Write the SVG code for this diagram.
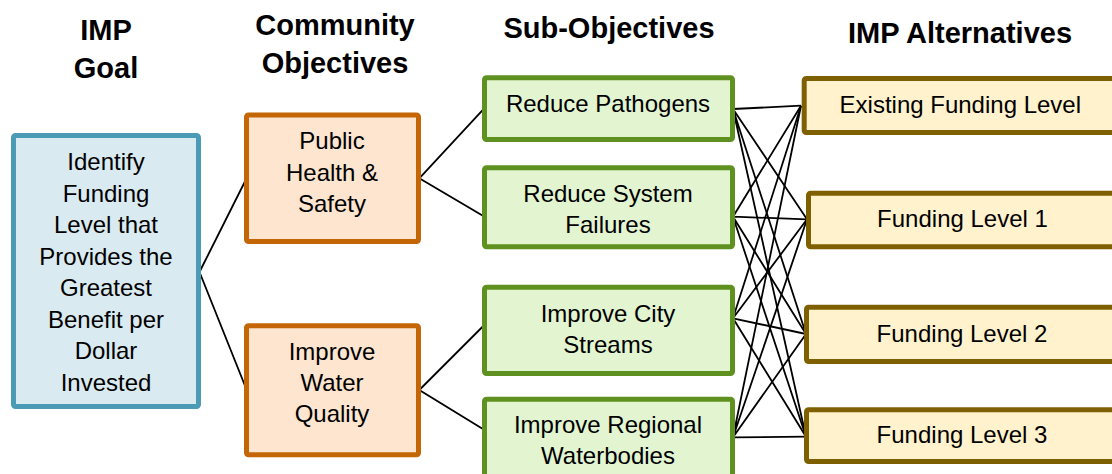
<svg xmlns="http://www.w3.org/2000/svg" width="1112" height="474" viewBox="0 0 1112 474">
<style>
text{font-family:"Liberation Sans",Arial,Helvetica,sans-serif;fill:#000;text-anchor:middle}
.h{font-weight:bold;font-size:29px}
.t{font-size:24px}
.goal{fill:#daeaf1;stroke:#4b9ab6;stroke-width:5}
.comm{fill:#fde5cf;stroke:#c46506;stroke-width:5}
.sub{fill:#e2f4d0;stroke:#5e9120;stroke-width:5}
.alt{fill:#fff2cc;stroke:#7f6000;stroke-width:5}
.c{stroke:#000;stroke-width:1.8;fill:none}
</style>
<g id="headers">
<text class="h" x="106" y="40">IMP</text>
<text class="h" x="106" y="78">Goal</text>
<text class="h" x="335" y="35">Community</text>
<text class="h" x="335" y="73">Objectives</text>
<text class="h" x="609" y="38">Sub-Objectives</text>
<text class="h" x="960" y="43">IMP Alternatives</text>
</g>
<g id="connectors">
<path class="c" d="M199.5,272 L246.7,178 M199.5,272 L246.7,390"/>
<path class="c" d="M419.3,178.3 L483.3,109.3 M419.3,178.3 L483.3,216"/>
<path class="c" d="M419.3,390 L483.3,326 M419.3,390 L483.3,429.3"/>
<path class="c" d="M733,109 L801,105.7 M733,109 L807,219.3 M733,109 L806,334 M733,109 L806,436.7"/>
<path class="c" d="M733,216.7 L801,105.7 M733,216.7 L807,219.3 M733,216.7 L806,334 M733,216.7 L806,436.7"/>
<path class="c" d="M733,318.3 L801,105.7 M733,318.3 L807,219.3 M733,318.3 L806,334 M733,318.3 L806,436.7"/>
<path class="c" d="M733,437.3 L801,105.7 M733,437.3 L807,219.3 M733,437.3 L806,334 M733,437.3 L806,436.7"/>
</g>
<g id="goal">
<rect class="goal" x="13.5" y="135.5" width="185" height="271" rx="2"/>
<text class="t" x="106" y="170">Identify</text>
<text class="t" x="106" y="201.5">Funding</text>
<text class="t" x="106" y="233">Level that</text>
<text class="t" x="106" y="264.5">Provides the</text>
<text class="t" x="106" y="296">Greatest</text>
<text class="t" x="106" y="327.5">Benefit per</text>
<text class="t" x="106" y="359">Dollar</text>
<text class="t" x="106" y="390.5">Invested</text>
</g>
<g id="public-health">
<rect class="comm" x="246.5" y="115" width="172" height="126.5" rx="2"/>
<text class="t" x="332" y="148.5">Public</text>
<text class="t" x="332" y="180.5">Health &amp;</text>
<text class="t" x="332" y="212">Safety</text>
</g>
<g id="water-quality">
<rect class="comm" x="246.5" y="325.8" width="172" height="129" rx="2"/>
<text class="t" x="332" y="359.5">Improve</text>
<text class="t" x="332" y="391">Water</text>
<text class="t" x="332" y="422">Quality</text>
</g>
<g id="pathogens">
<rect class="sub" x="484.5" y="77.8" width="248" height="61.7" rx="2"/>
<text class="t" x="608" y="111.7">Reduce Pathogens</text>
</g>
<g id="failures">
<rect class="sub" x="484.5" y="167.8" width="248" height="79" rx="2"/>
<text class="t" x="608" y="201.7">Reduce System</text>
<text class="t" x="608" y="233.3">Failures</text>
</g>
<g id="streams">
<rect class="sub" x="484.5" y="287.2" width="248" height="86.3" rx="2"/>
<text class="t" x="608" y="321.7">Improve City</text>
<text class="t" x="608" y="352.7">Streams</text>
</g>
<g id="regional">
<rect class="sub" x="484.5" y="399.2" width="248" height="90" rx="2"/>
<text class="t" x="608" y="432.7">Improve Regional</text>
<text class="t" x="608" y="463.5">Waterbodies</text>
</g>
<g id="existing">
<rect class="alt" x="804.2" y="78.5" width="330" height="54" rx="2"/>
<text class="t" x="960.3" y="112.7">Existing Funding Level</text>
</g>
<g id="level1">
<rect class="alt" x="808.5" y="193.2" width="330" height="53.6" rx="2"/>
<text class="t" x="962.5" y="226.7">Funding Level 1</text>
</g>
<g id="level2">
<rect class="alt" x="806.5" y="307.2" width="330" height="54.3" rx="2"/>
<text class="t" x="962" y="341.7">Funding Level 2</text>
</g>
<g id="level3">
<rect class="alt" x="806.5" y="409.8" width="330" height="51.7" rx="2"/>
<text class="t" x="962" y="443.3">Funding Level 3</text>
</g>
</svg>
